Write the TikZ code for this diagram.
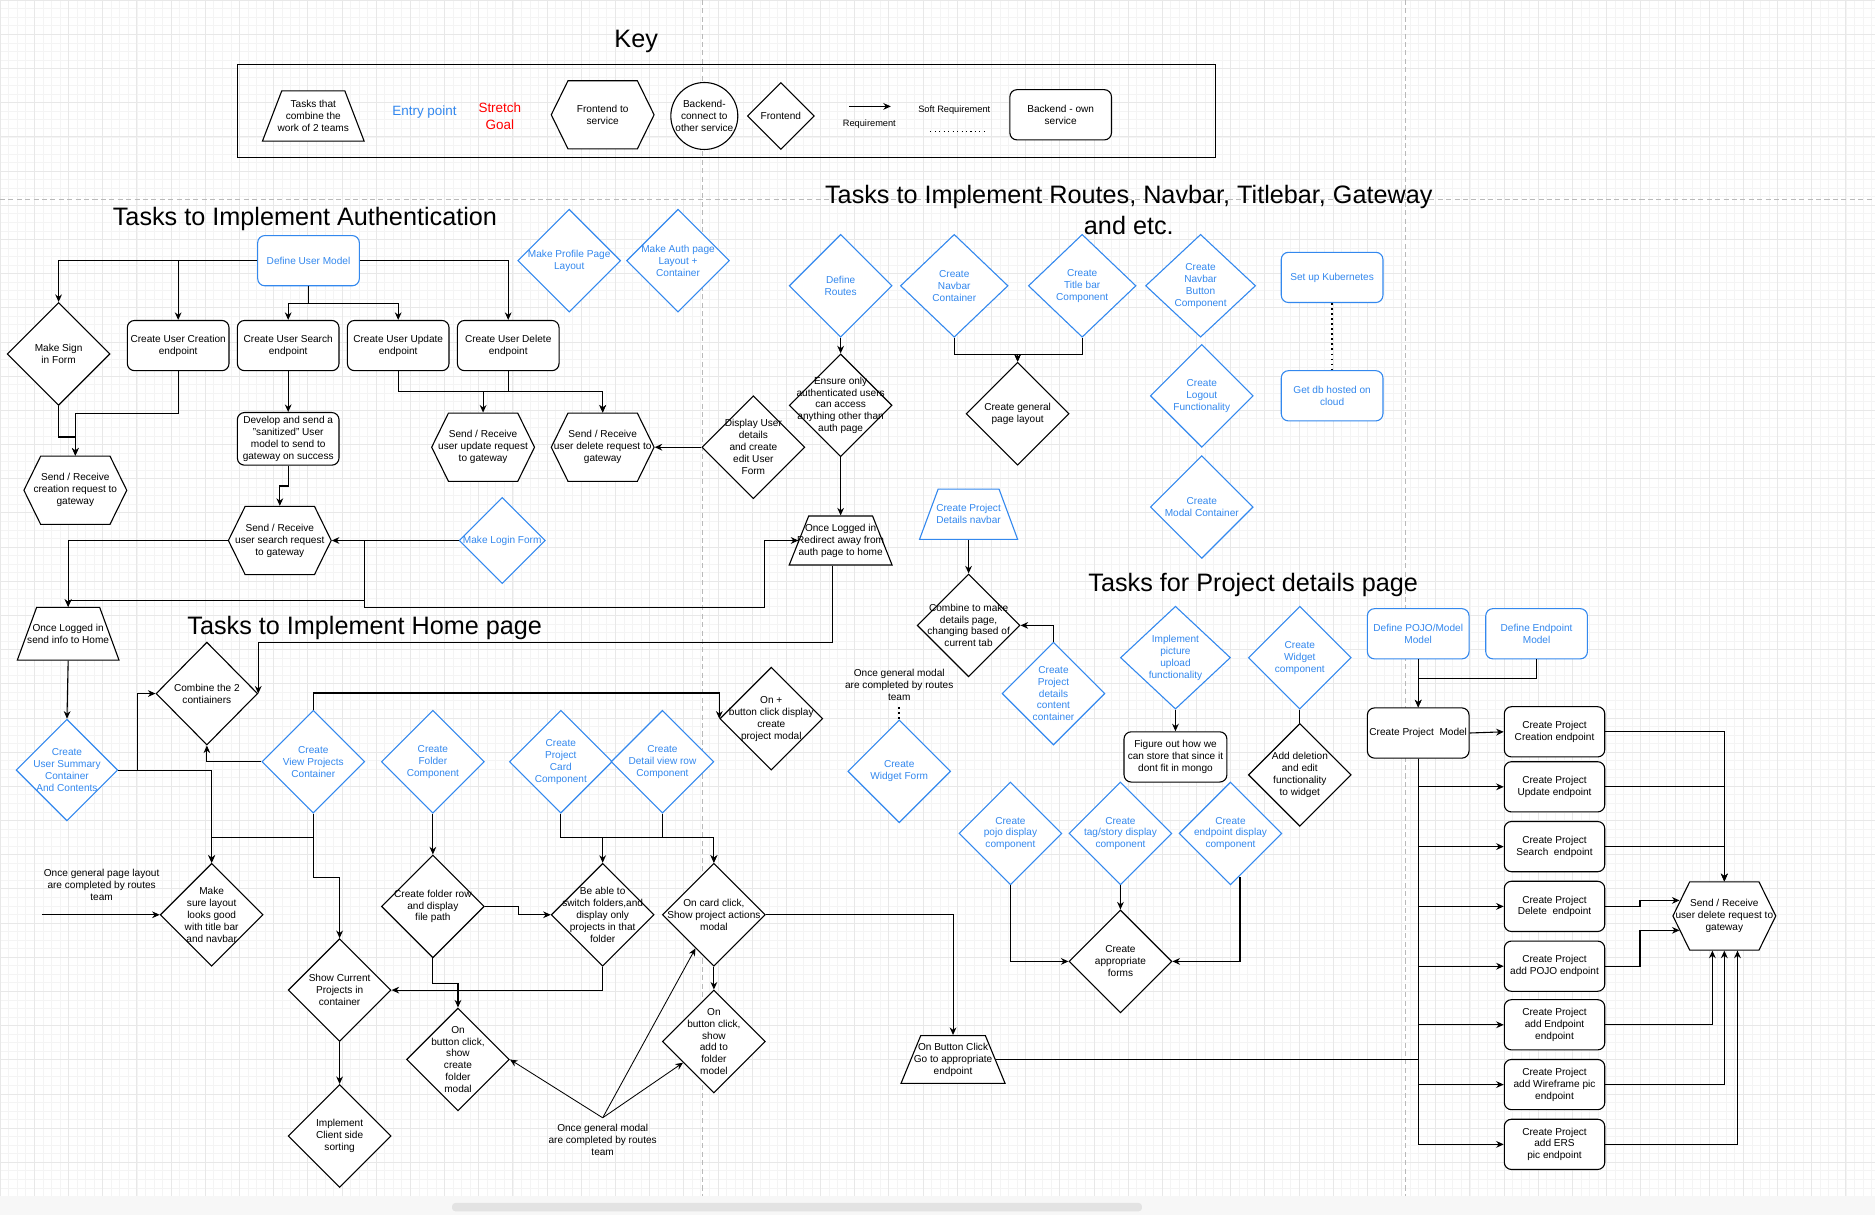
\documentclass[tikz,border=0pt]{standalone}
\usepackage{fontspec}
\setmainfont{Liberation Sans}
\usetikzlibrary{arrows.meta,shapes.geometric}

\definecolor{dioblue}{HTML}{3388EE}

\tikzset{
  every node/.style={font=\fontsize{6}{7.1}\selectfont},
  txt/.style={align=center, inner sep=0pt},
  heading/.style={font=\fontsize{15}{18.4}\selectfont, align=center},
  arr/.style={-{Stealth[length=4.5pt, width=4pt]}},
  gridminor/.style={draw=gray!9, line width=0.25pt},
  gridmajor/.style={draw=gray!18, line width=0.3pt},
  pagebreak/.style={draw=gray!55, line width=0.4pt, dash pattern=on 3pt off 2pt},
  rbox/.style={draw, fill=white, rounded corners=0.15cm, minimum width=2.125cm, minimum height=1.05cm, inner sep=1pt, align=center},
  brbox/.style={rbox, draw=dioblue, text=dioblue},
  hexbox/.style={minimum width=2.15cm, minimum height=1.425cm, inner sep=0pt, align=center},
  dia/.style={diamond, draw, fill=white, minimum width=2.15cm, minimum height=2.15cm, inner sep=0pt, label={[txt]center:{#1}}},
  bdia/.style={diamond, draw=dioblue, fill=white, minimum width=2.15cm, minimum height=2.15cm, inner sep=0pt, label={[txt, text=dioblue]center:{#1}}},
  trap/.style={trapezium, trapezium left angle=73, trapezium right angle=73, trapezium stretches=true, draw, fill=white, minimum width=2.15cm, minimum height=1.05cm, inner sep=2pt, label={[txt]center:{#1}}},
  btrap/.style={trapezium, trapezium left angle=73, trapezium right angle=73, trapezium stretches=true, draw=dioblue, fill=white, minimum width=2.15cm, minimum height=1.05cm, inner sep=2pt, label={[txt, text=dioblue]center:{#1}}}
}

% hexagon: name, centre, text
\newcommand{\hexnode}[3]{%
  \filldraw[fill=white, shift={(#2)}] (-43,0) -- (-29,-28.5) -- (29,-28.5) -- (43,0) -- (29,28.5) -- (-29,28.5) -- cycle;
  \node (#1) at (#2) [hexbox] {#3};}

\begin{document}
\begin{tikzpicture}[x=0.025cm, y=-0.025cm, line width=0.65pt]
  \useasboundingbox (0,0) rectangle (1568,1016);

  % Draw the page grid and the page breaks
  \draw[gridminor, step=0.1786cm] (0,0) grid (1568,1000);
  \draw[gridmajor, step=0.7144cm] (0,0) grid (1568,1000);
  \draw[pagebreak] (0,167) -- (1568,167);
  \draw[pagebreak] (587,0) -- (587,1000);
  \draw[pagebreak] (1175,0) -- (1175,1000);
  \fill[gray!6] (0,1000) rectangle (1568,1016);
  \fill[gray!22, rounded corners=2pt] (378,1006) rectangle (955,1013);

  % Key
  \node (hkey) at (532,35) [heading] {Key};
  \node (keybox) at (607.5,93) [draw, minimum width=20.425cm, minimum height=1.95cm] {};
  \node (ktrap) at (262,97) [trap={Tasks that\\combine the\\work of 2 teams}, minimum width=2.125cm] {};
  \node (kentry) at (355,94) [text=dioblue, font=\fontsize{8}{10}\selectfont] {Entry point};
  \node (kstretch) at (418,97) [text=red, align=center, font=\fontsize{8}{10}\selectfont] {Stretch\\Goal};
  \hexnode{khex}{504,96}{Frontend to\\service}
  \node (kcircle) at (589,97) [circle, draw, fill=white, minimum size=1.4cm, inner sep=0pt, label={[txt]center:{Backend-\\connect to\\other service}}] {};
  \node (kdia) at (653,97) [dia=Frontend, minimum width=1.4cm, minimum height=1.4cm] {};
  \coordinate (kreqa) at (710,89);
  \coordinate (kreqb) at (745,89);
  \draw[arr] (kreqa) -- (kreqb);
  \node (kreq) at (727,104) [font=\fontsize{5.5}{6.6}\selectfont] {Requirement};
  \node (ksoft) at (798,92) [font=\fontsize{5.5}{6.6}\selectfont] {Soft Requirement};
  \coordinate (ksofta) at (778,110);
  \coordinate (ksoftb) at (825,110);
  \draw[dotted] (ksofta) -- (ksoftb);
  \node (kown) at (887,96) [rbox] {Backend - own\\service};

  % Authentication
  \node (hauth) at (255,183) [heading] {Tasks to Implement Authentication};
  \node (dum) at (258,218) [brbox] {Define User Model};
  \node (profile) at (476,218) [bdia={Make Profile Page\\Layout}] {};
  \node (authpage) at (567,218) [bdia={Make Auth page\\Layout +\\Container}] {};
  \node (signin) at (49,296) [dia={Make Sign\\in Form}] {};
  \node (ucreate) at (149,289) [rbox] {Create User Creation\\endpoint};
  \node (usearch) at (241,289) [rbox] {Create User Search\\endpoint};
  \node (uupdate) at (333,289) [rbox] {Create User Update\\endpoint};
  \node (udelete) at (425,289) [rbox] {Create User Delete\\endpoint};
  \node (develop) at (241,367) [rbox, minimum height=1.1cm] {Develop and send a\\"sanitized" User\\model to send to\\gateway on success};
  \hexnode{screate}{63,410}{Send / Receive\\creation request to\\gateway}
  \hexnode{supdate}{404,374}{Send / Receive\\user update request\\to gateway}
  \hexnode{sdelete}{504,374}{Send / Receive\\user delete request to\\gateway}
  \node (duser) at (630,374) [dia={Display User\\details\\and create\\edit User\\Form}] {};
  \hexnode{ssearch}{234,452}{Send / Receive\\user search request\\to gateway}
  \node (login) at (420,452) [bdia={Make Login Form}, minimum width=1.8cm, minimum height=1.8cm] {};
  \coordinate (jlogin) at (305,452);

  \draw[arr] (dum.west) -| (signin.north);
  \draw[arr] (dum.west) -| (ucreate.north);
  \draw[arr] (dum.east) -| (udelete.north);
  \draw[arr] (dum.south) -- ++(0,14) -| (usearch.north);
  \draw[arr] (dum.south) -- ++(0,14) -| (uupdate.north);
  \draw[arr] (ucreate.south) -- ++(0,35) -| (screate.north);
  \draw[arr] (signin.south) -- ++(0,26) -| (screate.north);
  \draw[arr] (usearch.south) -- (develop.north);
  \draw[arr] (develop.south) -- ++(0,17) -| (ssearch.north);
  \draw[arr] (uupdate.south) -- ++(0,17) -| (supdate.north);
  \draw[arr] (uupdate.south) -- ++(0,17) -| (sdelete.north);
  \draw[arr] (udelete.south) -- ++(0,17) -| (sdelete.north);
  \draw[arr] (duser.west) -- (sdelete.east);
  \draw[arr] (login.west) -- (ssearch.east);

  % Routes, navbar, titlebar
  \node (hroutes) at (944,176) [heading] {Tasks to Implement Routes, Navbar, Titlebar, Gateway\\and etc.};
  \node (droutes) at (703,239) [bdia={Define\\Routes}] {};
  \node (navcont) at (798,239) [bdia={Create\\Navbar\\Container}, minimum width=2.25cm] {};
  \node (titlebar) at (905,239) [bdia={Create\\Title bar\\Component}, minimum width=2.25cm] {};
  \node (navbtn) at (1004,239) [bdia={Create\\Navbar\\Button\\Component}, minimum width=2.3cm] {};
  \node (kube) at (1114,232) [brbox] {Set up Kubernetes};
  \node (dbcloud) at (1114,331) [brbox] {Get db hosted on\\cloud};
  \node (logout) at (1005,331) [bdia={Create\\Logout\\Functionality}] {};
  \node (modalc) at (1005,424) [bdia={Create\\Modal Container}] {};
  \node (ensure) at (703,339) [dia={Ensure only\\authenticated users\\can access\\anything other than\\auth page}] {};
  \node (genlayout) at (851,346) [dia={Create general\\page layout}] {};
  \node (redirect) at (703,452) [trap={Once Logged in\\Redirect away from\\auth page to home}, minimum height=1.025cm] {};
  \node (detnav) at (810,430) [btrap={Create Project\\Details navbar}, minimum width=2.05cm] {};
  \node (combdet) at (810,523) [dia={Combine to make\\details page,\\changing based of\\current tab}] {};
  \node (detcont) at (881,580) [bdia={Create\\Project\\details\\content\\container}] {};
  \node (modaltxt2) at (752,573) [align=center] {Once general modal\\are completed by routes\\team};
  \node (wform) at (752,645) [bdia={Create\\Widget Form}] {};

  \draw[arr] (droutes.south) -- (ensure.north);
  \draw[arr] (ensure.south) -- (redirect.north);
  \draw[arr] (navcont.south) -- ++(0,14) -| (genlayout.north);
  \draw[arr] (titlebar.south) -- ++(0,14) -| (genlayout.north);
  \draw[dotted, line width=1pt] (kube.south) -- (dbcloud.north);
  \draw[arr] (detnav.south) -- (combdet.north);
  \draw[arr] (detcont.north) |- (combdet.east);
  \draw[dotted, line width=1pt] (modaltxt2.south) -- (wform.north);

  % Project details page
  \node (hdet) at (1048,489) [heading] {Tasks for Project details page};
  \node (picup) at (983,550) [bdia={Implement\\picture\\upload\\functionality}, minimum width=2.3cm] {};
  \node (figure) at (983,633) [rbox, minimum width=2.15cm] {Figure out how we\\can store that since it\\dont fit in mongo};
  \node (widget) at (1087,550) [bdia={Create\\Widget\\component}] {};
  \node (adddel) at (1087,648) [dia={Add deletion\\and edit\\functionality\\to widget}] {};
  \node (pojodisp) at (845,697) [bdia={Create\\pojo display\\component}] {};
  \node (tagdisp) at (937,697) [bdia={Create\\tag/story display\\component}] {};
  \node (epdisp) at (1029,697) [bdia={Create\\endpoint display\\component}] {};
  \node (forms) at (937,804) [dia={Create\\appropriate\\forms}] {};
  \node (dpojo) at (1186,530) [brbox] {Define POJO/Model\\Model};
  \node (dendp) at (1285,530) [brbox] {Define Endpoint\\Model};
  \node (cpmodel) at (1186,613) [rbox] {Create Project\ \ Model};
  \node (cp1) at (1300,612) [rbox, minimum width=2.1cm] {Create Project\\Creation endpoint};
  \node (cp2) at (1300,658) [rbox, minimum width=2.1cm] {Create Project\\Update endpoint};
  \node (cp3) at (1300,708) [rbox, minimum width=2.1cm] {Create Project\\Search\ \ endpoint};
  \node (cp4) at (1300,758) [rbox, minimum width=2.1cm] {Create Project\\Delete\ \ endpoint};
  \node (cp5) at (1300,808) [rbox, minimum width=2.1cm] {Create Project\\add POJO endpoint};
  \node (cp6) at (1300,857) [rbox, minimum width=2.1cm] {Create Project\\add Endpoint\\endpoint};
  \node (cp7) at (1300,907) [rbox, minimum width=2.1cm] {Create Project\\add Wireframe pic\\endpoint};
  \node (cp8) at (1300,957) [rbox, minimum width=2.1cm] {Create Project\\add ERS\\pic endpoint};
  \hexnode{sgate}{1442,766}{Send / Receive\\user delete request to\\gateway}
  \node (btnclick) at (797,886) [trap={On Button Click\\Go to appropriate\\endpoint}, minimum width=2.175cm, minimum height=1cm] {};

  \draw[arr] (picup.south) -- (figure.north);
  \draw (widget.south) -- (adddel.north);
  \draw[arr] (tagdisp.south) -- (forms.north);
  \draw[arr] (pojodisp.south) |- (forms.west);
  \draw[arr] (epdisp.south) ++(8,-7) |- (forms.east);
  \draw[arr] (dpojo.south) -- (cpmodel.north);
  \draw[arr] (dendp.south) -- ++(0,16) -| (cpmodel.north);
  \draw[arr] (cpmodel.east) -- (cp1.west);
  \foreach \n in {cp2,cp3,cp4,cp5,cp6,cp7,cp8}
    \draw[arr] (cpmodel.south) |- (\n.west);
  \draw (btnclick.east) -- (btnclick.east -| cpmodel.south);
  \foreach \n in {cp1,cp2,cp3}
    \draw[arr] (\n.east) -| (sgate.north);
  \draw[arr] (cp4.east) -- ++(29,0) |- ([shift={(6,-13)}]sgate.west);
  \draw[arr] (cp5.east) -- ++(29,0) |- ([shift={(6,12)}]sgate.west);
  \draw[arr] (cp6.east) -| ([shift={(-10,0)}]sgate.south);
  \draw[arr] (cp7.east) -| (sgate.south);
  \draw[arr] (cp8.east) -| ([shift={(11,0)}]sgate.south);

  % Home page
  \node (hhome) at (305,525) [heading] {Tasks to Implement Home page};
  \node (sendhome) at (57,530) [trap={Once Logged in\\send info to Home}, minimum width=2.125cm, minimum height=1.1cm] {};
  \node (usum) at (56,644) [bdia={Create\\User Summary\\Container\\And Contents}, minimum width=2.125cm, minimum height=2.125cm] {};
  \node (combine2) at (173,580) [dia={Combine the 2\\contiainers}, minimum width=2.125cm] {};
  \node (viewproj) at (262,637) [bdia={Create\\View Projects\\Container}] {};
  \node (folder) at (362,637) [bdia={Create\\Folder\\Component}] {};
  \node (pcard) at (469,637) [bdia={Create\\Project\\Card\\Component}] {};
  \node (detrow) at (554,637) [bdia={Create\\Detail view row\\Component}] {};
  \node (onplus) at (645,601) [dia={On +\\button click display\\create\\project modal}] {};
  \node (pagetxt) at (85,740) [align=center] {Once general page layout\\are completed by routes\\team};
  \coordinate (pagein) at (35,765);
  \node (makesure) at (177,765) [dia={Make\\sure layout\\looks good\\with title bar\\and navbar}] {};
  \node (folderrow) at (362,758) [dia={Create folder row\\and display\\file path}] {};
  \node (beable) at (504,765) [dia={Be able to\\switch folders,and\\display only\\projects in that\\folder}] {};
  \node (oncard) at (597,765) [dia={On card click,\\Show project actions\\modal}] {};
  \node (showcur) at (284,828) [dia={Show Current\\Projects in\\container}] {};
  \node (sorting) at (284,950) [dia={Implement\\Client side\\sorting}] {};
  \node (crfolder) at (383,886) [dia={On\\button click,\\show\\create\\folder\\modal}] {};
  \node (addfolder) at (597,871) [dia={On\\button click,\\show\\add to\\folder\\model}] {};
  \node (modaltxt) at (504,953) [align=center] {Once general modal\\are completed by routes\\team};

  % Connect the login flow to the home page
  \draw[arr] (ssearch.west) -| (sendhome.north);
  \draw[arr] (jlogin) -- ++(0,50) -| (sendhome.north);
  \draw[arr] (jlogin) -- ++(0,56) -| ++(334,-56) -- (redirect.west);
  \draw[arr] (redirect.south) ++(-7,0) -- ++(0,64) -| (combine2.east);

  \draw[arr] (sendhome.south) -- (usum.north);
  \draw[arr] (usum.east) -- ++(16,0) |- (combine2.west);
  \draw[arr] (usum.east) -| (makesure.north);
  \draw[arr] (viewproj.west) -| (combine2.south);
  \draw[arr] (viewproj.north) -- ++(0,-14) -| (onplus.west);
  \draw[arr] (viewproj.south) -- ++(0,20) -| (makesure.north);
  \draw[arr] (viewproj.south) -- ++(0,53) -| (showcur.north);
  \draw[arr] (folder.south) -- (folderrow.north);
  \draw[arr] (pcard.south) -- ++(0,20) -| (beable.north);
  \draw[arr] (pcard.south) -- ++(0,20) -| (oncard.north);
  \draw[arr] (detrow.south) -- ++(0,20) -| (oncard.north);
  \draw[arr] (folderrow.east) -- ++(28,0) |- (beable.west);
  \draw[arr] (folderrow.south) -- ++(0,21) -| (crfolder.north);
  \draw[arr] (beable.south) |- (showcur.east);
  \draw[arr] (showcur.south) -- (sorting.north);
  \draw[arr] (oncard.south) -- (addfolder.north);
  \draw[arr] (oncard.east) -| (btnclick.north);
  \draw[arr] (pagein) -- (makesure.west);
  \draw[arr, line width=0.5pt] (modaltxt.north) -- (crfolder.east);
  \draw[arr, line width=0.5pt] (modaltxt.north) -- (oncard);
  \draw[arr, line width=0.5pt] (modaltxt.north) -- (addfolder);
\end{tikzpicture}
\end{document}
